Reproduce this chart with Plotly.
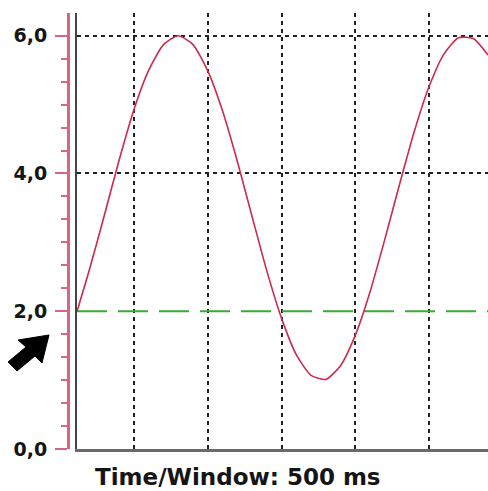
import plotly.graph_objects as go

# ---- data ----
time_ms = [11.4, 20, 30, 40, 50, 60, 70, 80, 90, 100, 110, 120, 130, 140, 150,
           160, 170, 180, 190, 200, 210, 220, 230, 240, 250, 260, 270, 280, 290]
signal = [2.0, 2.62, 3.40, 4.20, 4.93, 5.50, 5.87, 6.0, 5.87, 5.49, 4.91, 4.18, 3.38, 2.59, 1.90,
          1.37, 1.07, 1.01, 1.21, 1.65, 2.28, 3.04, 3.84, 4.61, 5.26, 5.73, 5.97, 5.96, 5.72]
threshold = 2.0
y_tick_vals = [0, 2, 4, 6]
y_tick_labels = ["0,0", "2,0", "4,0", "6,0"]
x_grid_vals = [50, 100, 150, 200, 250]
y_grid_vals = [4, 6]
x_title = "Time/Window: 500 ms"

# ---- layout geometry ----
W, H = 488, 491
ML, MR, MT, MB = 60, 0, 13, 42
PW = W - ML - MR
PH = H - MT - MB
x_range = [11.36, 290]
y_range = [0, 6.33]

PINK = "#d9667f"
CURVE = "#cc2a4a"
GREEN = "#3aaa35"

def px(x):
    return (x - ML) / PW

def py(y):
    return (H - MB - y) / PH

fig = go.Figure()

# invisible trace so the pink scale axis (y2) gets drawn
fig.add_trace(go.Scatter(
    x=[x_range[0]], y=[y_range[0]], yaxis="y2", mode="markers",
    marker=dict(opacity=0, size=1), hoverinfo="skip", showlegend=False))

fig.add_trace(go.Scatter(
    x=[x_range[0], x_range[1]], y=[threshold, threshold], mode="lines",
    line=dict(color=GREEN, width=2, dash="30px,11px"),
    hoverinfo="skip", showlegend=False))

fig.add_trace(go.Scatter(
    x=time_ms, y=signal, mode="lines",
    line=dict(color=CURVE, width=1.6, shape="spline", smoothing=0.6),
    showlegend=False))

# arrow decoration (pixel outline -> paper)
arrow_px = [(49, 335), (42, 363), (35, 356), (17, 371), (8, 362), (26, 347), (18, 340)]
path = "M " + " L ".join(f"{px(a):.4f},{py(b):.4f}" for a, b in arrow_px) + " Z"
fig.add_shape(type="path", path=path, xref="paper", yref="paper",
              fillcolor="black", line=dict(color="black", width=1), layer="above")

fig.add_annotation(text=x_title, xref="paper", yref="paper",
                   x=px(238), y=py(477), xanchor="center", yanchor="middle",
                   showarrow=False,
                   font=dict(family="DejaVu Sans", size=23, color="#151515", weight="bold"))

fig.update_layout(
    width=W, height=H,
    margin=dict(l=ML, r=MR, t=MT, b=MB),
    paper_bgcolor="white", plot_bgcolor="white",
    showlegend=False,
    xaxis=dict(
        domain=[px(77), 1], range=x_range, tickvals=x_grid_vals,
        showticklabels=False, ticks="", zeroline=False,
        showgrid=True, gridcolor="#222222", gridwidth=2, griddash="4px,4px",
        showline=True, linecolor="#6a6a6a", linewidth=3, mirror=False,
        anchor="y"),
    yaxis=dict(
        range=y_range, anchor="x", side="left",
        tickvals=y_grid_vals, showticklabels=False, ticks="",
        showgrid=True, gridcolor="#222222", gridwidth=2, griddash="4px,4px",
        zeroline=False, showline=True, linecolor="#444444", linewidth=2),
    yaxis2=dict(
        range=y_range, overlaying="y", anchor="free", position=px(68), side="left",
        tickvals=y_tick_vals, ticktext=y_tick_labels,
        ticks="outside", ticklen=12, tickwidth=2, tickcolor=PINK,
        tickfont=dict(family="DejaVu Sans", size=19, color="#151515", weight="bold"),
        ticklabelstandoff=4,
        minor=dict(dtick=2/6, tick0=0, ticks="outside", ticklen=6, tickwidth=2,
                   tickcolor=PINK, showgrid=False),
        showgrid=False, zeroline=False,
        showline=True, linecolor=PINK, linewidth=3),
)

fig.write_html("out.html")
